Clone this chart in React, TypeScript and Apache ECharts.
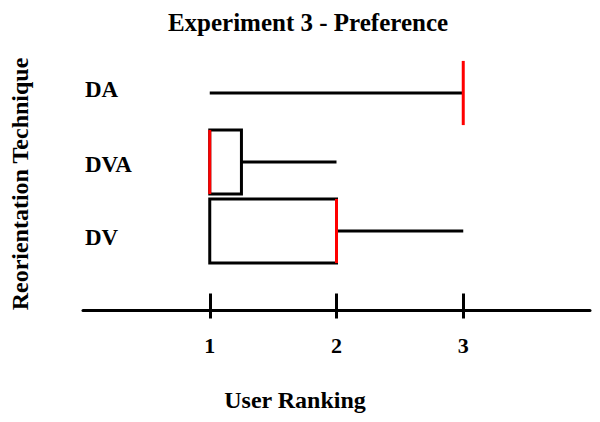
import React, { useEffect, useRef } from "react";
import * as echarts from "echarts";

const categories = ["DA", "DVA", "DV"];
const minVals = [1, 1, 1];
const q1Vals = [3, 1, 1];
const medianVals = [3, 1, 2];
const q3Vals = [3, 1.25, 2];
const maxVals = [3, 2, 3];
const tickValues = [1, 2, 3];

const titleText = "Experiment 3 - Preference";
const xName = "User Ranking";
const yName = "Reorientation Technique";

const FONT = "'Liberation Serif', 'Times New Roman', serif";

export default function App() {
  const ref = useRef<HTMLDivElement>(null);
  useEffect(() => {
    if (!ref.current) return;
    const chart = echarts.init(ref.current, undefined, { renderer: "svg" });
    const data = categories.map((c, i) => [c, minVals[i], q1Vals[i], medianVals[i], q3Vals[i], maxVals[i]]);
    const labelStyle = { fontFamily: FONT, fontWeight: "bold", fontSize: 23, color: "#000" };
    const option: any = {
      animation: false,
      backgroundColor: "#ffffff",
      title: {
        text: titleText,
        left: 303,
        top: 5,
        textAlign: "center",
        textStyle: { fontFamily: FONT, fontWeight: "bold", fontSize: 25, color: "#000" },
      },
      grid: { left: 83, right: 10, top: 58.5, bottom: 156.5 },
      xAxis: [
        {
          type: "value",
          min: 0,
          max: 4,
          interval: 1,
          position: "bottom",
          offset: 45,
          axisLine: { show: true, lineStyle: { color: "#000", width: 3 } },
          axisTick: { show: true, customValues: tickValues, length: 8, lineStyle: { color: "#000", width: 3 } },
          axisLabel: {
            customValues: tickValues,
            margin: 24,
            fontFamily: FONT,
            fontWeight: "bold",
            fontSize: 22,
            color: "#000",
          },
          splitLine: { show: false },
        },
        {
          type: "value",
          min: 0,
          max: 4,
          interval: 1,
          position: "bottom",
          offset: 45,
          axisLine: { show: false },
          axisTick: { show: true, inside: true, customValues: tickValues, length: 17, lineStyle: { color: "#000", width: 3 } },
          axisLabel: { show: false },
          splitLine: { show: false },
        },
      ],
      yAxis: {
        type: "category",
        data: categories,
        inverse: true,
        axisLine: { show: false },
        axisTick: { show: false },
        splitLine: { show: false },
        axisLabel: {
          align: "left",
          margin: -2,
          ...labelStyle,
          formatter: (v: string, i: number) => `{r${i}|${v}}`,
          rich: {
            r0: { ...labelStyle, padding: [0, 0, 8, 0] },
            r1: { ...labelStyle, padding: [4, 0, 0, 0] },
            r2: { ...labelStyle, padding: [13, 0, 0, 0] },
          },
        },
      },
      graphic: [
        {
          type: "text",
          x: 295,
          y: 400,
          style: {
            text: xName,
            font: `bold 24px ${FONT}`,
            fill: "#000",
            align: "center",
            verticalAlign: "middle",
          },
        },
        {
          type: "text",
          x: 20,
          y: 184,
          rotation: Math.PI / 2,
          style: {
            text: yName,
            font: `bold 24px ${FONT}`,
            fill: "#000",
            align: "center",
            verticalAlign: "middle",
          },
        },
      ],
      series: [
        {
          type: "custom",
          xAxisIndex: 0,
          yAxisIndex: 0,
          clip: false,
          encode: { x: [1, 2, 3, 4, 5], y: 0 },
          data,
          renderItem: (params: any, api: any) => {
            const idx = api.value(0);
            const y = api.coord([0, idx])[1];
            const bh = api.size([0, 1])[1] * 0.93;
            const xMin = api.coord([api.value(1), idx])[0];
            const xQ1 = api.coord([api.value(2), idx])[0];
            const xMed = api.coord([api.value(3), idx])[0];
            const xQ3 = api.coord([api.value(4), idx])[0];
            const xMax = api.coord([api.value(5), idx])[0];
            const black = { stroke: "#000", lineWidth: 3, fill: "none" };
            const children: any[] = [];
            if (xQ1 > xMin) {
              children.push({ type: "line", shape: { x1: xMin, y1: y, x2: xQ1, y2: y }, style: black });
            }
            if (xMax > xQ3) {
              children.push({ type: "line", shape: { x1: xQ3, y1: y, x2: xMax, y2: y }, style: black });
            }
            if (xQ3 > xQ1) {
              children.push({
                type: "rect",
                shape: { x: xQ1, y: y - bh / 2, width: xQ3 - xQ1, height: bh },
                style: { stroke: "#000", lineWidth: 3, fill: "#fff" },
              });
            }
            children.push({
              type: "line",
              shape: { x1: xMed, y1: y - bh / 2, x2: xMed, y2: y + bh / 2 },
              style: { stroke: "#ff0000", lineWidth: 3 },
            });
            return { type: "group", children };
          },
        },
      ],
    };
    chart.setOption(option);
    return () => chart.dispose();
  }, []);
  return <div ref={ref} style={{ width: 600, height: 422, position: "absolute", left: 0, top: 0 }} />;
}
